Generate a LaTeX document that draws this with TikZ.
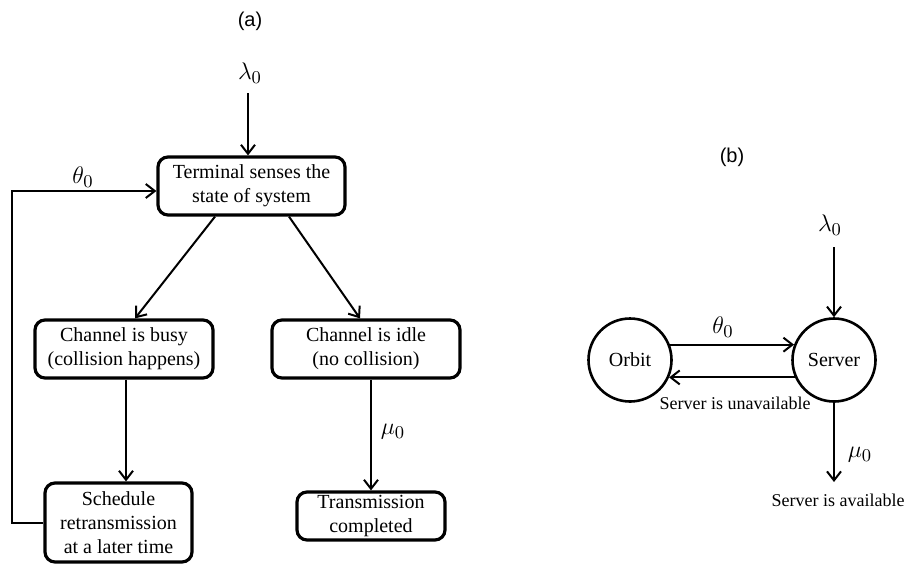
\documentclass[tikz,border=0pt]{standalone}
\usepackage{fontspec}
\setmainfont{Liberation Serif}
\setsansfont{Liberation Sans}
\usetikzlibrary{arrows.meta}
\begin{document}
\begin{tikzpicture}[x=0.5pt,y=-0.5pt,
  box/.style={draw, line width=1.6pt, rounded corners=5pt, align=center, font=\fontsize{10}{12}\selectfont, inner sep=0pt},
  circ/.style={draw, circle, line width=1.3pt, minimum size=41.5pt, inner sep=0pt, font=\fontsize{10}{12}\selectfont},
  arr/.style={line width=1pt, -{Straight Barb[length=4.5pt,width=7pt,line width=1pt]}},
  lab/.style={font=\fontsize{10}{12}\selectfont\sffamily, inner sep=0pt},
  sym/.style={font=\fontsize{13}{15}\selectfont, inner sep=0pt},
  note/.style={font=\fontsize{9}{11}\selectfont, inner sep=0pt}]
\useasboundingbox (0,0) rectangle (909,563);
% (a)
\node[lab] (la) at (250,21) {(a)};
\node[sym] (lam) at (250,73) {$\lambda_0$};
\node[box, minimum width=93.5pt, minimum height=29pt] (term) at (251.5,186) {Terminal senses the\\state of system};
\node[box, minimum width=89pt, minimum height=29pt] (busy) at (124,349) {Channel is busy\\(collision happens)};
\node[box, minimum width=94pt, minimum height=29pt] (idle) at (366,349) {Channel is idle\\(no collision)};
\node[box, minimum width=73.5pt, minimum height=39.5pt] (sched) at (118.5,522.5) {Schedule\\retransmission\\at a later time};
\node[box, minimum width=74pt, minimum height=24pt] (trans) at (371,516) {Transmission\\completed};
\node[sym] (th) at (83,177) {$\theta_0$};
\node[sym] (mu) at (393,432) {$\mu_0$};
\coordinate (a0) at (248,93);
\coordinate (lc) at (12,0);
\draw[arr] (a0) -- (a0 |- term.north);
\draw[arr] ([xshift=-18.25pt]term.south) -- ([xshift=5.5pt]busy.north);
\draw[arr] ([xshift=18.75pt]term.south) -- ([xshift=-3pt]idle.north);
\draw[arr] ([xshift=1pt]busy.south) -- ([xshift=1pt]busy.south |- sched.north);
\draw[arr] (trans.north |- idle.south) -- (trans.north);
\draw[arr] (sched.west) -- (sched.west -| lc) |- ([yshift=-2.5pt]term.west);
% (b)
\node[lab] (lb) at (732,157) {(b)};
\node[sym] (lamb) at (830,225) {$\lambda_0$};
\node[circ] (orbit) at (630,360) {Orbit};
\node[circ] (server) at (834,360) {Server};
\node[sym] (thb) at (723,327) {$\theta_0$};
\node[sym] (mub) at (860,455) {$\mu_0$};
\node[note] (una) at (735,403) {Server is unavailable};
\node[note] (ava) at (838,500) {Server is available};
\coordinate (b0) at (834,247);
\coordinate (b1) at (834,482);
\draw[arr] (b0) -- (server.north);
\draw[arr] (orbit.21) -- (server.159);
\draw[arr] (server.204) -- (orbit.-24);
\draw[arr] (server.south) -- (b1);
\end{tikzpicture}
\end{document}
